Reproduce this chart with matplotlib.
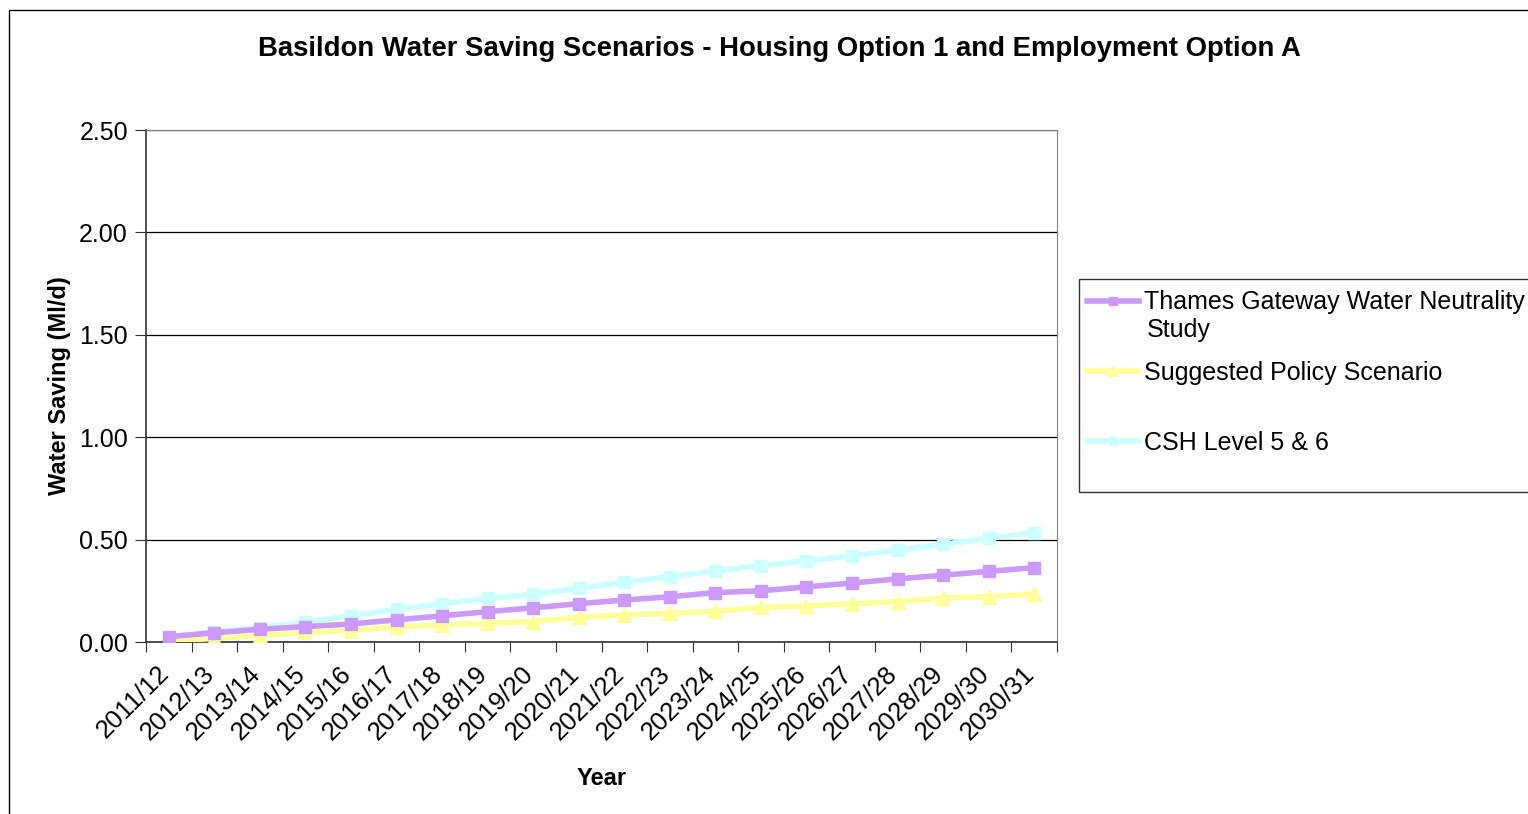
import matplotlib
matplotlib.use("Agg")
import matplotlib.pyplot as plt
import matplotlib.transforms as mtransforms
from matplotlib.patches import Rectangle
import numpy as np

plt.rcParams['font.family'] = ['Liberation Sans', 'DejaVu Sans']

years = ["2011/12", "2012/13", "2013/14", "2014/15", "2015/16", "2016/17", "2017/18",
         "2018/19", "2019/20", "2020/21", "2021/22", "2022/23", "2023/24", "2024/25",
         "2025/26", "2026/27", "2027/28", "2028/29", "2029/30", "2030/31"]
thames = [0.026, 0.045, 0.062, 0.075, 0.088, 0.108, 0.128, 0.148, 0.167, 0.187,
          0.205, 0.221, 0.241, 0.250, 0.269, 0.288, 0.308, 0.326, 0.345, 0.363]
policy = [0.003, 0.018, 0.031, 0.047, 0.055, 0.075, 0.083, 0.091, 0.099, 0.121,
          0.132, 0.140, 0.150, 0.169, 0.176, 0.186, 0.197, 0.215, 0.221, 0.234]
csh = [0.026, 0.050, 0.070, 0.098, 0.128, 0.160, 0.186, 0.213, 0.233, 0.262,
       0.291, 0.319, 0.347, 0.373, 0.396, 0.421, 0.449, 0.477, 0.506, 0.534]
yticks = [0.0, 0.5, 1.0, 1.5, 2.0, 2.5]

W, H = 1528, 814
fig = plt.figure(figsize=(W / 100, H / 100), dpi=100)
ax = fig.add_axes([146 / W, 1 - 642 / H, (1057 - 146) / W, (642 - 130) / H])

x = np.arange(len(years))
l1, = ax.plot(x, thames, color='#CC99FF', lw=4, marker='s', ms=9, zorder=4)
l2, = ax.plot(x, policy, color='#FFFF99', lw=4, marker='^', ms=10, zorder=3)
l3, = ax.plot(x, csh, color='#CCFFFF', lw=4, marker='s', ms=9, zorder=2)

ax.set_xlim(-0.5, len(years) - 0.5)
ax.set_ylim(0, 2.5)
ax.set_yticks(yticks)
ax.set_yticklabels([f"{v:.2f}" for v in yticks], fontsize=18)
ax.yaxis.grid(True, color='black', lw=0.9)
ax.set_axisbelow(True)

ax.set_xticks(np.arange(len(years) + 1) - 0.5)
ax.set_xticklabels([])
ax.set_xticks(x, minor=True)
ax.set_xticklabels(years, minor=True, rotation=45, ha='right', rotation_mode='anchor', fontsize=18.5)
ax.tick_params(axis='x', which='minor', length=0, pad=14)
ax.tick_params(axis='x', which='major', length=7, direction='out', color='#333333')
ax.tick_params(axis='y', length=8, direction='out', color='#333333', pad=5)
shift = mtransforms.ScaledTranslation(-12 / 100, 0, fig.dpi_scale_trans)
for lab in ax.get_xticklabels(minor=True):
    lab.set_transform(lab.get_transform() + shift)

for s in ['top', 'right']:
    ax.spines[s].set_color('#808080')
for s in ['left', 'bottom']:
    ax.spines[s].set_color('#333333')
    ax.spines[s].set_linewidth(1.2)

ax.set_ylabel("Water Saving (Ml/d)", fontsize=17, fontweight='bold', labelpad=6)
ax.set_xlabel("Year", fontsize=17, fontweight='bold', labelpad=16)

fig.text(779 / W, 1 - 49 / H, "Basildon Water Saving Scenarios - Housing Option 1 and Employment Option A",
         ha='center', va='center', fontsize=19.8, fontweight='bold')

# legend frame (Excel-style box, taller than its entries)
fig.patches.append(Rectangle((1079 / W, 1 - 492 / H), 1.0, (492 - 279) / H, transform=fig.transFigure,
                             fill=True, facecolor='white', edgecolor='#333333', lw=1.0, zorder=1))
leg = fig.legend([l1, l2, l3],
                 ["Thames Gateway Water Neutrality", "Suggested Policy Scenario", "CSH Level 5 & 6"],
                 loc='upper left', bbox_to_anchor=(1079 / W, 1 - 283 / H),
                 fontsize=18, frameon=False,
                 labelspacing=1.85, handlelength=2.1, handletextpad=0.2, borderpad=0.3,
                 borderaxespad=0, markerscale=0.7)
fig.text(1147 / W, 1 - 330 / H, "Study", ha='left', va='center', fontsize=18, zorder=10)

fig.patches.append(Rectangle((9 / W, -0.1), 1.2, 1 - 10 / H + 0.1, transform=fig.transFigure,
                             fill=False, edgecolor='black', lw=1.0))

fig.savefig("out.png", dpi=100)
